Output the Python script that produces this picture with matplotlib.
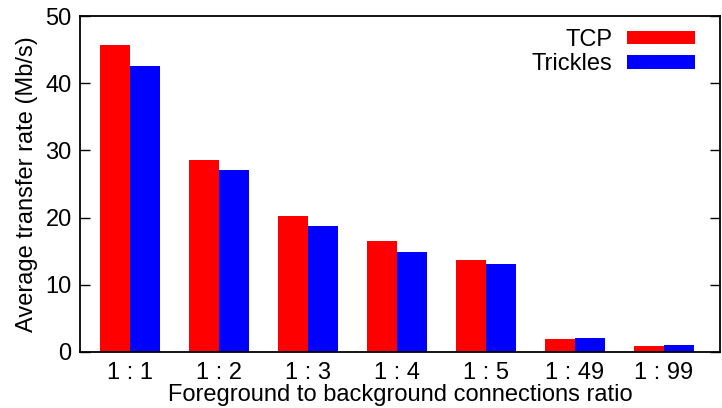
import matplotlib.pyplot as plt
import numpy as np

plt.rcParams['font.family'] = ['Liberation Sans', 'DejaVu Sans']

ratios = ['1 : 1', '1 : 2', '1 : 3', '1 : 4', '1 : 5', '1 : 49', '1 : 99']
tcp = [45.7, 28.5, 20.2, 16.5, 13.7, 1.9, 0.95]
trickles = [42.6, 27.1, 18.8, 14.9, 13.1, 2.1, 1.1]

font_size = 17
bar_w = 0.337

fig = plt.figure(figsize=(7.22, 4.08), dpi=100)
ax = fig.add_axes([80 / 722, 1 - 352 / 408, 640 / 722, 336 / 408])

x = np.arange(len(ratios))
ax.bar(x - bar_w / 2, tcp, width=bar_w, color='#ff0000', label='TCP')
ax.bar(x + bar_w / 2, trickles, width=bar_w, color='#0000ff', label='Trickles')

ax.set_xlim(-0.56, 6.63)
ax.set_ylim(0, 50)
ax.set_yticks([0, 10, 20, 30, 40, 50])
ax.set_xticks(x)
ax.set_xticklabels(ratios)
ax.tick_params(axis='y', direction='in', length=7, width=1, right=True,
               labelsize=font_size, pad=6)
ax.tick_params(axis='x', length=0, labelsize=font_size, pad=7)
for s in ax.spines.values():
    s.set_linewidth(1.3)

ax.set_ylabel('Average transfer rate (Mb/s)', fontsize=font_size, labelpad=5)
ax.set_xlabel('Foreground to background connections ratio', fontsize=font_size, labelpad=0)

ax.legend(loc='upper right', markerfirst=False, frameon=False, fontsize=font_size,
          handlelength=2.85, handleheight=0.5, handletextpad=0.62,
          labelspacing=0.1, borderaxespad=0.0, bbox_to_anchor=(0.975, 0.99))

plt.savefig('out.png', dpi=100)
